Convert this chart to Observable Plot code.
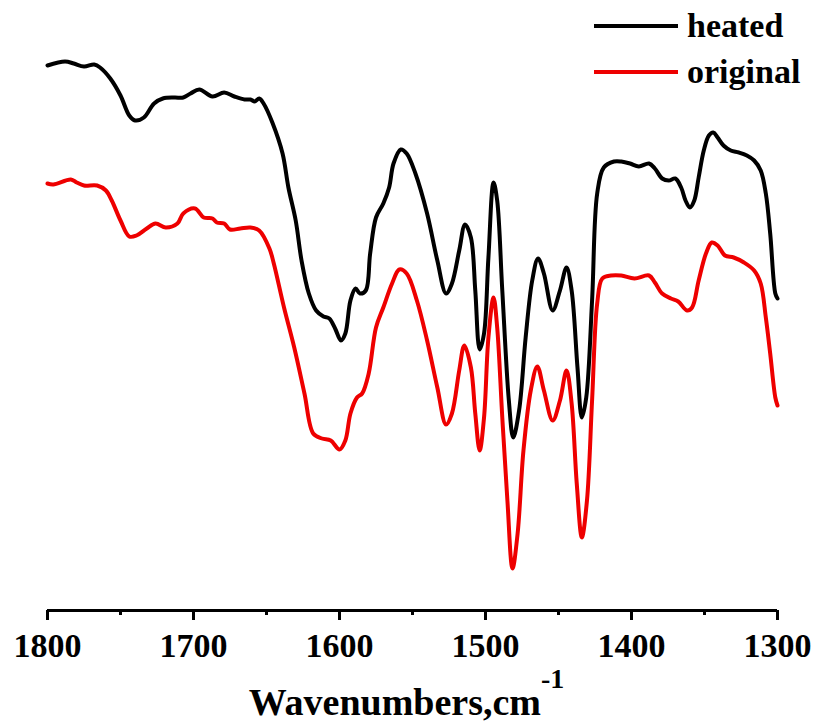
<!DOCTYPE html>
<html>
<head>
<meta charset="utf-8">
<script src="https://cdn.jsdelivr.net/npm/d3@7"></script>
<script src="https://cdn.jsdelivr.net/npm/@observablehq/plot@0.6"></script>
<style>
  body { margin: 0; background: #fff; }
  #wrap { position: relative; width: 813px; height: 724px; overflow: hidden; background: #fff;
          font-family: "Liberation Serif", "Times New Roman", serif; }
  #legend { position: absolute; left: 0; top: 0; pointer-events: none; }
  #title { position: absolute; left: 0; top: 683px; width: 813px; text-align: center;
           font-family: "Liberation Serif", "Times New Roman", serif;
           font-size: 38px; font-weight: bold; line-height: 1; color: #000; }
  #title span { font-size: 28px; position: relative; top: -27px; }
</style>
</head>
<body>
<div id="wrap">
  <div id="chart"></div>
  <svg id="legend" width="813" height="100"></svg>
  <div id="title">Wavenumbers,cm<span>-1</span></div>
</div>
<script>
// Series names
const seriesNames = ["heated", "original"];

// Tick labels (wavenumber, cm-1)
const majorTicks = [1800, 1700, 1600, 1500, 1400, 1300];
const minorTicks = [1750, 1650, 1550, 1450, 1350];

// "heated" spectrum: wavenumbers and signal (arbitrary units)
const heatedWavenumber = [1800,1788,1782,1775,1768,1764,1757,1750,1744,1740,1734,1727,1721,1713,1707,1702,1696,1687,1679,1672,1665,1661,1658,1655,1652,1646,1639,1635,1630,1626,1621,1616,1611,1607,1603,1599,1596,1592.5,1589,1586,1582,1579,1575,1570,1566,1563,1558,1554,1548,1540,1533,1527,1523,1518,1514,1510,1507,1504,1501,1498,1494.5,1492,1488.5,1484,1481,1477,1472.5,1468,1464,1460,1454,1449,1444.5,1441,1437,1434,1431,1427,1423.5,1419,1412,1407,1401,1395,1388,1384,1379,1374.5,1370,1366,1363,1360,1357,1354,1350.5,1347,1344,1341,1337,1332,1326.5,1321,1316,1311.5,1308,1305,1301.5,1300];
const heatedSignal = [545,549,547,544,546,543,532,515,495,490,493,507,512,513,513,517,521,514,518,514,511,511,509,512,507,488,457,423,390,350,317,300,294,292,282,270,277,310,322,317,320,357,393,407,423,447,461,457,437,397,350,317,327,360,386,373,320,261,277,353,428,410,320,210,173,200,273,330,352,337,300,320,343,320,243,193,213,310,417,443,449,449,447,444,447,442,432,430,432,423,410,403,410,433,460,475,478,473,465,460,458,455,450,440,417,377,317,312];

// "original" spectrum: wavenumbers and signal (arbitrary units)
const originalWavenumber = [1800,1796,1784,1780,1775,1766,1760,1756,1750,1744,1739,1732,1726,1719,1711,1707,1699,1693,1687,1684,1679,1675,1668,1661,1655,1648,1645,1638,1631,1624,1618,1612,1606,1600,1596,1592.5,1588,1584.5,1580,1575,1570,1564,1559,1554,1547,1540,1533,1527,1523,1518,1514.5,1510,1507,1504,1501,1498,1494.5,1492,1488.5,1485,1481.5,1478,1474,1469,1464.5,1460,1454,1449,1444.5,1441,1437.5,1434,1430.5,1427,1423.5,1420,1414,1407,1398,1388,1384,1379,1373,1368,1362,1358.5,1354,1349,1345,1341,1336,1330,1323,1316,1311.5,1308,1305,1301.5,1300];
const originalSignal = [427,426,431,428,425,425,420,410,390,374,375,382,387,383,387,397,402,393,392,388,387,381,382,383,380,362,347,303,263,217,177,172,170,161,170,197,213,217,237,283,303,327,341,337,310,270,223,186,197,240,265,243,197,160,193,273,313,283,193,110,42,77,160,220,244,220,190,210,240,207,127,73,110,210,307,332,335,335,332,335,328,317,312,309,300,303,330,357,368,365,355,353,348,340,327,293,257,213,205];

const colors = { heated: "#000000", original: "#ee0000" };

const toRows = (ws, vs, s) => ws.map((w, i) => ({ wavenumber: w, signal: vs[i], series: s }));
const heatedRows = toRows(heatedWavenumber, heatedSignal, seriesNames[0]);
const originalRows = toRows(originalWavenumber, originalSignal, seriesNames[1]);

const serif = "'Liberation Serif', 'Times New Roman', serif";

const chart = Plot.plot({
  width: 813,
  height: 668,
  marginLeft: 47,
  marginRight: 36,
  marginTop: 40,
  marginBottom: 58,
  style: { fontFamily: serif, fontSize: "34px", fontWeight: "bold", color: "#000", background: "#fff", overflow: "visible" },
  x: { domain: [1800, 1300], label: null },
  y: { domain: [0, 570], axis: null },
  marks: [
    Plot.ruleY([0], { stroke: "#000", strokeWidth: 3 }),
    Plot.axisX(minorTicks, { tickSize: 5, strokeWidth: 3, tickFormat: () => "", label: null }),
    Plot.axisX(majorTicks, { tickSize: 10, tickPadding: 12, strokeWidth: 3, tickFormat: d => String(d), fontFamily: serif, fontSize: 34, fontWeight: "bold", label: null }),
    Plot.line(originalRows, { x: "wavenumber", y: "signal", stroke: colors.original, strokeWidth: 4, curve: "catmull-rom" }),
    Plot.line(heatedRows, { x: "wavenumber", y: "signal", stroke: colors.heated, strokeWidth: 4, curve: "catmull-rom" })
  ]
});
document.getElementById("chart").appendChild(chart);

// Legend (top right)
const legend = d3.select("#legend");
const rowsY = [26, 72];
seriesNames.forEach((name, i) => {
  legend.append("line")
    .attr("x1", 594).attr("x2", 678)
    .attr("y1", rowsY[i]).attr("y2", rowsY[i])
    .attr("stroke", colors[name]).attr("stroke-width", 4);
  legend.append("text")
    .attr("x", 687).attr("y", rowsY[i] + 11)
    .attr("font-family", serif)
    .attr("font-size", 34).attr("font-weight", "bold")
    .attr("fill", "#000")
    .text(name);
});
</script>
</body>
</html>
